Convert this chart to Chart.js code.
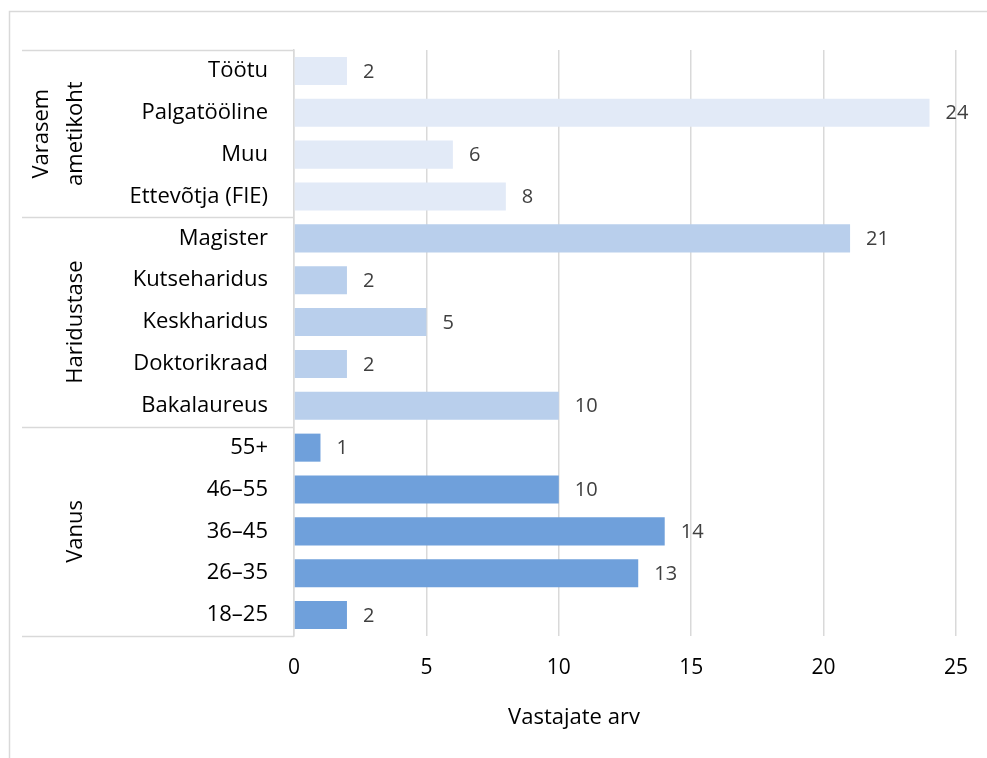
<!DOCTYPE html>
<html>
<head>
<meta charset="utf-8">
<script src="https://cdn.jsdelivr.net/npm/chart.js@4/dist/chart.umd.min.js"></script>
<style>
  html, body { margin: 0; padding: 0; background: #fff; }
  #wrap { width: 987px; height: 758px; position: relative; }
</style>
</head>
<body>
<div id="wrap"><canvas id="chart" width="987" height="758"></canvas></div>
<script>
// data, top row first
const groups = ['Varasem ametikoht', 'Haridustase', 'Vanus'];
const groupSizes = [4, 5, 5];
const categories = ['Töötu', 'Palgatööline', 'Muu', 'Ettevõtja (FIE)',
    'Magister', 'Kutseharidus', 'Keskharidus', 'Doktorikraad', 'Bakalaureus',
    '55+', '46–55', '36–45', '26–35', '18–25'];
const values = [2, 24, 6, 8, 21, 2, 5, 2, 10, 1, 10, 14, 13, 2];
const xTicks = [0, 5, 10, 15, 20, 25];
const xTitle = 'Vastajate arv';
const groupColors = ['#E2EAF7', '#B9CFEC', '#6FA0DB'];

const FONT = '"Open Sans", "Liberation Sans", sans-serif';
const GRID = '#D9D9D9';

// one colour per bar, taken from its group
const barColors = [];
groupSizes.forEach((n, g) => {
    for (let i = 0; i < n; i++) barColors.push(groupColors[g]);
});

// outer frame, axis title, group labels and separators on the left
const groupPlugin = {
    id: 'groupPlugin',
    beforeDraw(chart) {
        const ctx = chart.ctx;
        ctx.save();
        ctx.strokeStyle = GRID;
        ctx.lineWidth = 1.5;
        ctx.beginPath();
        ctx.moveTo(9.5, 758);
        ctx.lineTo(9.5, 11.5);
        ctx.lineTo(987, 11.5);
        ctx.stroke();
        ctx.restore();
    },
    afterDraw(chart) {
        const ctx = chart.ctx;
        const y = chart.scales.y;
        const left = chart.chartArea.left;
        const half = (y.getPixelForValue(1) - y.getPixelForValue(0)) / 2;
        ctx.save();

        // x axis title (Excel puts it a bit left of the plot centre)
        ctx.fillStyle = '#000';
        ctx.font = '22px ' + FONT;
        ctx.textAlign = 'center';
        ctx.textBaseline = 'middle';
        ctx.fillText(xTitle, 574, 718);

        ctx.strokeStyle = GRID;
        ctx.lineWidth = 1.5;
        let start = 0;
        const edges = [y.getPixelForValue(0) - half];
        groupSizes.forEach((n, g) => {
            const top = y.getPixelForValue(start) - half;
            const bottom = y.getPixelForValue(start + n - 1) + half;
            edges.push(bottom);
            const mid = (top + bottom) / 2;
            ctx.save();
            ctx.fillStyle = '#000';
            ctx.font = '22px ' + FONT;
            ctx.textAlign = 'center';
            ctx.textBaseline = 'middle';
            const words = groups[g].split(' ');
            if (words.length === 2) {
                ctx.translate(42, mid);
                ctx.rotate(-Math.PI / 2);
                ctx.fillText(words[0], 0, 0);
                ctx.fillText(words[1], 0, 34);
            } else {
                ctx.translate(76, mid);
                ctx.rotate(-Math.PI / 2);
                ctx.fillText(groups[g], 0, 0);
            }
            ctx.restore();
            start += n;
        });
        ctx.beginPath();
        edges.forEach(e => {
            ctx.moveTo(22, Math.round(e) + 0.5);
            ctx.lineTo(left, Math.round(e) + 0.5);
        });
        ctx.stroke();
        ctx.restore();
    }
};

// value labels to the right of each bar
const valuePlugin = {
    id: 'valuePlugin',
    afterDatasetsDraw(chart) {
        const ctx = chart.ctx;
        const meta = chart.getDatasetMeta(0);
        ctx.save();
        ctx.fillStyle = '#404040';
        ctx.font = '20px ' + FONT;
        ctx.textAlign = 'left';
        ctx.textBaseline = 'middle';
        meta.data.forEach((bar, i) => {
            ctx.fillText(values[i], bar.x + 16, bar.y + 1);
        });
        ctx.restore();
    }
};

new Chart(document.getElementById('chart').getContext('2d'), {
    type: 'bar',
    data: {
        labels: categories,
        datasets: [{
            data: values,
            backgroundColor: barColors,
            barPercentage: 0.67,
            categoryPercentage: 1
        }]
    },
    options: {
        indexAxis: 'y',
        responsive: false,
        animation: false,
        layout: { padding: { top: 50, right: 31, left: 0, bottom: 0 } },
        plugins: {
            legend: { display: false },
            tooltip: { enabled: false }
        },
        scales: {
            x: {
                min: 0,
                max: 25,
                afterBuildTicks(scale) {
                    scale.ticks = xTicks.map(v => ({ value: v }));
                },
                afterFit(scale) { scale.height = 122; },
                grid: { color: GRID, lineWidth: 1.5, drawTicks: false },
                border: { display: false },
                ticks: {
                    color: '#000',
                    padding: 19,
                    font: { family: FONT, size: 21 }
                }
            },
            y: {
                afterFit(scale) { scale.width = 294; },
                grid: { display: false, drawTicks: false },
                border: { display: true, color: GRID, width: 1.5 },
                ticks: {
                    color: '#000',
                    padding: 26,
                    font: { family: FONT, size: 22 }
                }
            }
        }
    },
    plugins: [groupPlugin, valuePlugin]
});
</script>
</body>
</html>
